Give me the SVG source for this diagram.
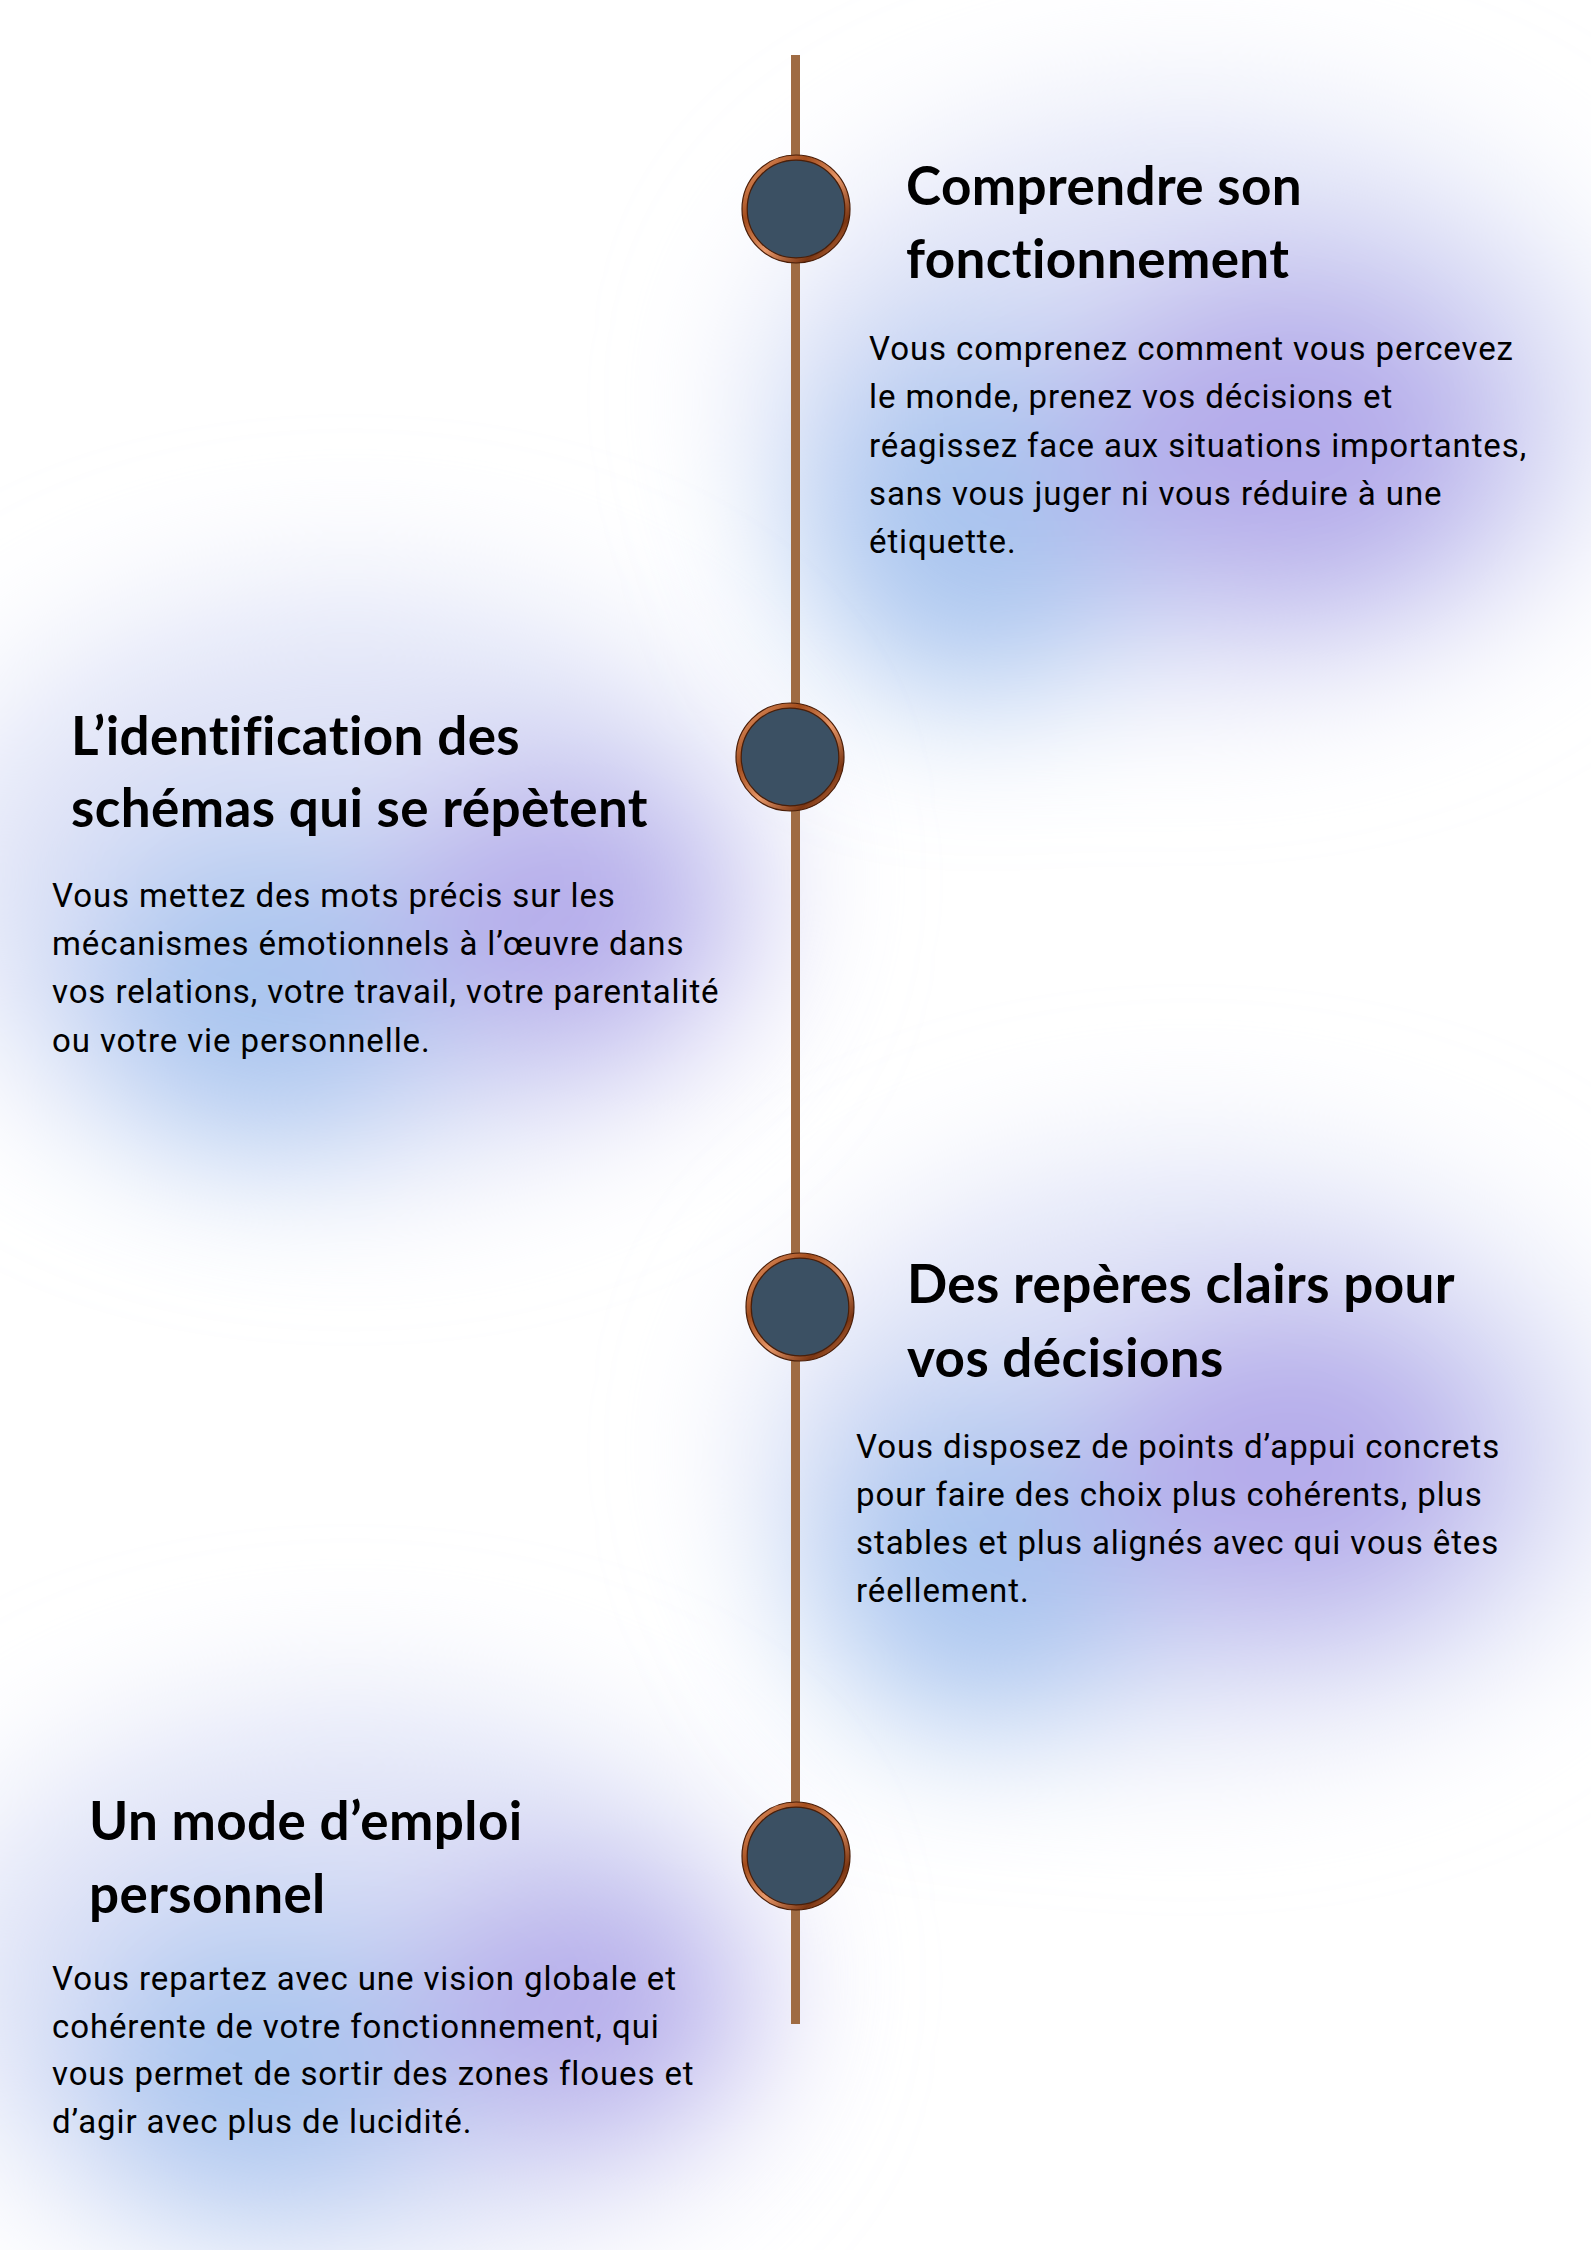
<svg xmlns="http://www.w3.org/2000/svg" width="1591" height="2250" viewBox="0 0 1591 2250">
  <defs>
    <filter id="soft" x="-60%" y="-60%" width="220%" height="220%">
      <feGaussianBlur stdDeviation="75"/>
    </filter>
    <linearGradient id="copper" x1="0" y1="0" x2="1" y2="1">
      <stop offset="0" stop-color="#f0a070"/>
      <stop offset="0.3" stop-color="#a24c1c"/>
      <stop offset="0.55" stop-color="#e8986a"/>
      <stop offset="0.8" stop-color="#7a3512"/>
      <stop offset="1" stop-color="#d98552"/>
    </linearGradient>
    <style>
      .title { font-family: Lato, "Liberation Sans", sans-serif; font-weight: 700; font-size: 53px; letter-spacing: 0.4px; fill: #000; font-variant-ligatures: none; }
      .body { font-family: Roboto, "Liberation Sans", sans-serif; font-weight: 400; font-size: 33px; letter-spacing: 0.9px; fill: #000; }
      .spine { stroke: #9f6b43; stroke-width: 9; fill: none; }
      .ring { fill: none; stroke: url(#copper); stroke-width: 5; }
      .ringline { fill: none; stroke: #4a1e08; stroke-width: 1.2; }
      .disc { fill: #3b5063; }
      .blue { fill: #a9c5ef; }
      .purple { fill: #b4aaea; }
      .pale { fill: #dfe3f7; }
    </style>
  </defs>

  <rect x="0" y="0" width="1591" height="2250" fill="#ffffff"/>

  <g id="backdrop">
    <g filter="url(#soft)">
      <ellipse class="pale" cx="1190" cy="400" rx="430" ry="290"/>
      <ellipse class="blue" cx="970" cy="520" rx="170" ry="180"/>
      <ellipse class="purple" cx="1290" cy="440" rx="220" ry="170"/>
    </g>
    <g filter="url(#soft)">
      <ellipse class="pale" cx="350" cy="880" rx="420" ry="290"/>
      <ellipse class="blue" cx="260" cy="990" rx="180" ry="160"/>
      <ellipse class="purple" cx="560" cy="915" rx="170" ry="140"/>
    </g>
    <g filter="url(#soft)">
      <ellipse class="pale" cx="1190" cy="1450" rx="430" ry="290"/>
      <ellipse class="blue" cx="980" cy="1560" rx="170" ry="170"/>
      <ellipse class="purple" cx="1290" cy="1465" rx="210" ry="160"/>
    </g>
    <g filter="url(#soft)">
      <ellipse class="pale" cx="350" cy="1980" rx="420" ry="280"/>
      <ellipse class="blue" cx="260" cy="2065" rx="180" ry="150"/>
      <ellipse class="purple" cx="575" cy="2005" rx="170" ry="130"/>
    </g>
  </g>

  <g id="connectors">
    <line class="spine" x1="795.5" y1="55" x2="795.5" y2="2024"/>
  </g>

  <g id="step-1">
    <circle class="disc" cx="796" cy="209" r="50"/>
    <circle class="ring" cx="796" cy="209" r="51.5"/>
    <circle class="ringline" cx="796" cy="209" r="48.8"/>
    <circle class="ringline" cx="796" cy="209" r="54"/>
    <text class="title"><tspan x="906" y="205">Comprendre son</tspan><tspan x="906" y="278">fonctionnement</tspan></text>
    <text class="body"><tspan x="869" y="360">Vous comprenez comment vous percevez</tspan><tspan x="869" y="408">le monde, prenez vos décisions et</tspan><tspan x="869" y="457">réagissez face aux situations importantes,</tspan><tspan x="869" y="505">sans vous juger ni vous réduire à une</tspan><tspan x="869" y="553">étiquette.</tspan></text>
  </g>

  <g id="step-2">
    <circle class="disc" cx="790" cy="757" r="50"/>
    <circle class="ring" cx="790" cy="757" r="51.5"/>
    <circle class="ringline" cx="790" cy="757" r="48.8"/>
    <circle class="ringline" cx="790" cy="757" r="54"/>
    <text class="title"><tspan x="71" y="755">L’identification des</tspan><tspan x="71" y="827">schémas qui se répètent</tspan></text>
    <text class="body"><tspan x="52" y="907">Vous mettez des mots précis sur les</tspan><tspan x="52" y="955">mécanismes émotionnels à l’œuvre dans</tspan><tspan x="52" y="1003">vos relations, votre travail, votre parentalité</tspan><tspan x="52" y="1052">ou votre vie personnelle.</tspan></text>
  </g>

  <g id="step-3">
    <circle class="disc" cx="800" cy="1307" r="50"/>
    <circle class="ring" cx="800" cy="1307" r="51.5"/>
    <circle class="ringline" cx="800" cy="1307" r="48.8"/>
    <circle class="ringline" cx="800" cy="1307" r="54"/>
    <text class="title"><tspan x="907" y="1303">Des repères clairs pour</tspan><tspan x="907" y="1377">vos décisions</tspan></text>
    <text class="body"><tspan x="856" y="1458">Vous disposez de points d’appui concrets</tspan><tspan x="856" y="1506">pour faire des choix plus cohérents, plus</tspan><tspan x="856" y="1554">stables et plus alignés avec qui vous êtes</tspan><tspan x="856" y="1602">réellement.</tspan></text>
  </g>

  <g id="step-4">
    <circle class="disc" cx="796" cy="1856" r="50"/>
    <circle class="ring" cx="796" cy="1856" r="51.5"/>
    <circle class="ringline" cx="796" cy="1856" r="48.8"/>
    <circle class="ringline" cx="796" cy="1856" r="54"/>
    <text class="title"><tspan x="89" y="1840">Un mode d’emploi</tspan><tspan x="89" y="1913">personnel</tspan></text>
    <text class="body"><tspan x="52" y="1990">Vous repartez avec une vision globale et</tspan><tspan x="52" y="2038">cohérente de votre fonctionnement, qui</tspan><tspan x="52" y="2085">vous permet de sortir des zones floues et</tspan><tspan x="52" y="2133">d’agir avec plus de lucidité.</tspan></text>
  </g>
</svg>
